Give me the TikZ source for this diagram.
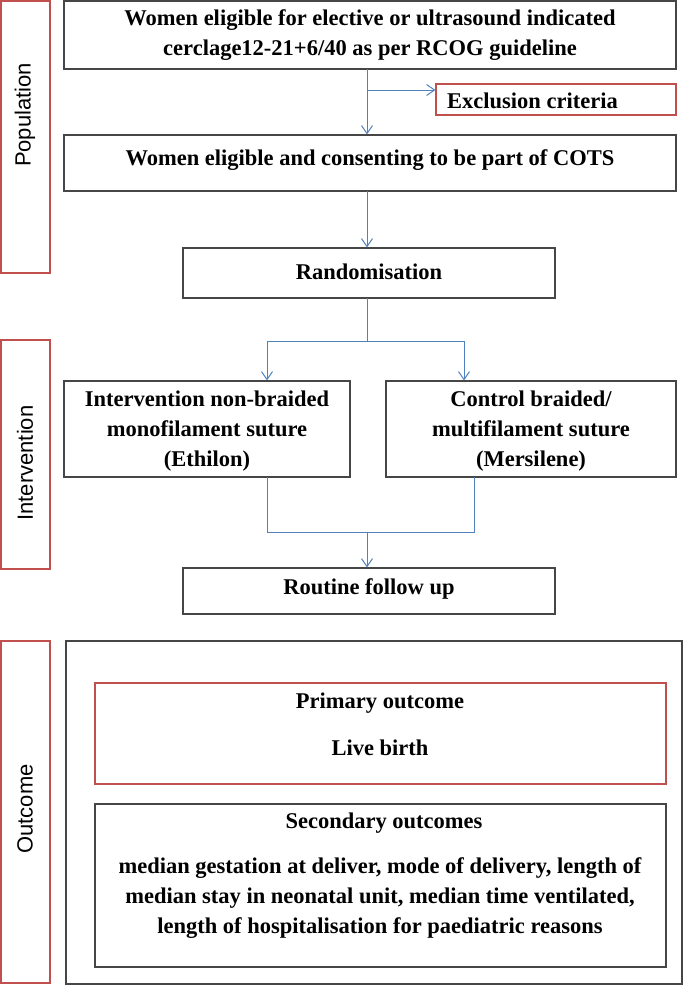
\documentclass[tikz,border=0pt]{standalone}
\usepackage{fontspec}
\setmainfont{Liberation Serif}
\newfontfamily\labfont{Liberation Sans}
\usetikzlibrary{arrows.meta}
\definecolor{flowblue}{RGB}{79,129,189}
\definecolor{flowred}{RGB}{192,80,77}
\definecolor{boxgray}{RGB}{70,70,70}
\begin{document}
\begin{tikzpicture}[x=1pt,y=-1pt,
  box/.style={draw=boxgray,line width=1.1pt,rectangle,inner sep=0pt},
  redbox/.style={draw=flowred,line width=1.1pt,rectangle,inner sep=0pt},
  txt/.style={font=\fontsize{22.5}{30}\selectfont\bfseries,align=center,inner sep=0pt},
  lab/.style={font=\fontsize{22}{26}\selectfont\labfont,rotate=90,inner sep=0pt},
  arr/.style={draw=flowblue,line width=1pt,-{Straight Barb[length=8pt,width=11pt]}},
  ln/.style={draw=flowblue,line width=1pt}]
\useasboundingbox (0,0) rectangle (685,989);
% left labels
\node[redbox,minimum width=49pt,minimum height=272pt] (popbox) at (25.5,137) {};
\node[lab] (poplab) at (25,115) {Population};
\node[redbox,minimum width=49pt,minimum height=229pt] (intbox) at (25.5,454.5) {};
\node[lab] (intlab) at (25,463) {Intervention};
\node[redbox,minimum width=49pt,minimum height=342pt] (outbox) at (25.5,812) {};
\node[lab] (outlab) at (25,809) {Outcome};
% flow boxes
\node[box,minimum width=612pt,minimum height=68pt] (top) at (370,35) {};
\node[txt] (toptxt) at (370,35) {Women eligible for elective or ultrasound indicated\\cerclage12-21+6/40 as per RCOG guideline};
\node[redbox,minimum width=240pt,minimum height=31pt] (excl) at (556,99.5) {};
\node[txt,anchor=west] (excltxt) at (447,101) {Exclusion criteria};
\node[box,minimum width=612pt,minimum height=56pt] (cons) at (370,163) {};
\node[txt] (constxt) at (370,160) {Women eligible and consenting to be part of COTS};
\node[box,minimum width=372pt,minimum height=50pt] (rand) at (369,273) {};
\node[txt] (randtxt) at (369,272) {Randomisation};
\node[box,minimum width=286pt,minimum height=96pt] (left) at (207,429) {};
\node[txt] (lefttxt) at (207,431) {Intervention non-braided\\monofilament suture\\(Ethilon)};
\node[box,minimum width=290pt,minimum height=96pt] (right) at (531,429) {};
\node[txt] (righttxt) at (531,431) {Control braided/\\multifilament suture\\(Mersilene)};
\node[box,minimum width=372pt,minimum height=46pt] (rout) at (369,591) {};
\node[txt] (routtxt) at (369,589) {Routine follow up};
% outcome
\node[box,minimum width=616pt,minimum height=343pt] (big) at (374,812.5) {};
\node[redbox,minimum width=571pt,minimum height=101pt] (prim) at (380.5,733.5) {};
\node[txt] (primhead) at (380,703) {Primary outcome};
\node[txt] (primtxt) at (380,748) {Live birth};
\node[box,minimum width=571pt,minimum height=163pt] (sec) at (380.5,885.5) {};
\node[txt] (sechead) at (384,823) {Secondary outcomes};
\node[txt] (sectxt) at (380,898) {median gestation at deliver, mode of delivery, length of\\median stay in neonatal unit, median time ventilated,\\length of hospitalisation for paediatric reasons};
% connectors
\coordinate (c1) at (367,69);
\coordinate (br) at (367,90);
\draw[arr] (c1) -- (c1 |- cons.north);
\draw[arr] (br) -- (br -| excl.west);
\coordinate (c2) at (367,191);
\draw[arr] (c2) -- (c2 |- rand.north);
\coordinate (c3) at (367,298);
\coordinate (sp) at (367,341);
\coordinate (spl) at (267,341);
\coordinate (spr) at (464,341);
\draw[ln] (c3) -- (sp);
\draw[ln] (spl) -- (spr);
\draw[arr] (spl) -- (spl |- left.north);
\draw[arr] (spr) -- (spr |- right.north);
\coordinate (jl) at (267,477);
\coordinate (jr) at (474,477);
\coordinate (jm) at (367,532);
\draw[ln] (jl) -- (jl |- jm) -- (jr |- jm) -- (jr);
\draw[arr] (jm) -- (jm |- rout.north);
\end{tikzpicture}
\end{document}
